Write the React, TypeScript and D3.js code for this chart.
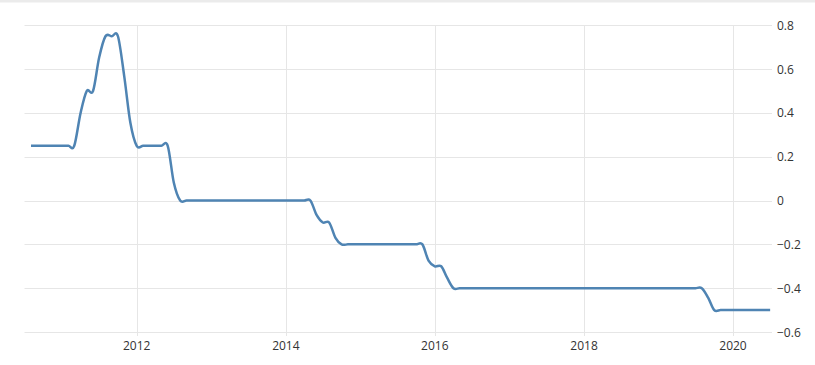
import React from "react";
import * as d3 from "d3";

// Monthly series (month start), Aug 2010 .. Jul 2020
const startMonth = "2010-08-01";
const values2010 = [0.25, 0.25, 0.25, 0.25, 0.25];
const values2011 = [0.25, 0.25, 0.25, 0.4, 0.5, 0.5, 0.653, 0.75, 0.75, 0.75, 0.567, 0.355];
const values2012 = [0.25, 0.25, 0.25, 0.25, 0.25, 0.25, 0.081, 0, 0, 0, 0, 0];
const values2013 = [0, 0, 0, 0, 0, 0, 0, 0, 0, 0, 0, 0];
const values2014 = [0, 0, 0, 0, 0, -0.067, -0.1, -0.1, -0.17, -0.2, -0.2, -0.2];
const values2015 = [-0.2, -0.2, -0.2, -0.2, -0.2, -0.2, -0.2, -0.2, -0.2, -0.2, -0.2, -0.274];
const values2016 = [-0.3, -0.3, -0.352, -0.4, -0.4, -0.4, -0.4, -0.4, -0.4, -0.4, -0.4, -0.4];
const values2017 = [-0.4, -0.4, -0.4, -0.4, -0.4, -0.4, -0.4, -0.4, -0.4, -0.4, -0.4, -0.4];
const values2018 = [-0.4, -0.4, -0.4, -0.4, -0.4, -0.4, -0.4, -0.4, -0.4, -0.4, -0.4, -0.4];
const values2019 = [-0.4, -0.4, -0.4, -0.4, -0.4, -0.4, -0.4, -0.4, -0.443, -0.5, -0.5, -0.5];
const values2020 = [-0.5, -0.5, -0.5, -0.5, -0.5, -0.5, -0.5];

const xTickYears = [2012, 2014, 2016, 2018, 2020];
const yTicks = [0.8, 0.6, 0.4, 0.2, 0, -0.2, -0.4, -0.6];

const W = 815;
const H = 365;

export default function App() {
  const values = [
    ...values2010, ...values2011, ...values2012, ...values2013, ...values2014,
    ...values2015, ...values2016, ...values2017, ...values2018, ...values2019, ...values2020,
  ];
  const start = new Date(startMonth + "T00:00:00");
  const data = values.map((v, i) => ({ date: d3.timeMonth.offset(start, i), value: v }));

  const x = d3
    .scaleTime()
    .domain([new Date(2012, 0, 1), new Date(2020, 0, 1)])
    .range([136.7, 733]);
  const y = d3.scaleLinear().domain([-0.6, 0.8]).range([332, 25.3]);

  const plotLeft = 24.5;
  const plotRight = 772;

  const line = d3
    .line<{ date: Date; value: number }>()
    .x((d) => x(d.date))
    .y((d) => y(d.value))
    .curve(d3.curveCatmullRom.alpha(0));

  const fmt = (v: number) => (v === 0 ? "0" : d3.format(".1f")(v));

  return (
    <svg
      width={W}
      height={H}
      style={{ position: "absolute", left: 0, top: 0, background: "#fff" }}
      fontFamily="'Open Sans', 'Noto Sans', sans-serif"
    >
      <rect x={0} y={0} width={W} height={2.5} fill="#ebebeb" />
      {yTicks.map((t) => (
        <line
          key={"h" + t}
          x1={plotLeft}
          x2={plotRight}
          y1={Math.round(y(t)) + 0.5}
          y2={Math.round(y(t)) + 0.5}
          stroke="#e6e6e6"
          strokeWidth={1}
        />
      ))}
      {xTickYears.map((yr) => {
        const xx = Math.round(x(new Date(yr, 0, 1))) + 0.5;
        return (
          <line key={"v" + yr} x1={xx} x2={xx} y1={25} y2={336} stroke="#e6e6e6" strokeWidth={1} />
        );
      })}
      <path d={line(data) || ""} fill="none" stroke="#4f84b3" strokeWidth={2.5} strokeLinejoin="round" />
      {xTickYears.map((yr) => (
        <text
          key={"xt" + yr}
          x={x(new Date(yr, 0, 1))}
          y={350}
          textAnchor="middle"
          fontSize={12}
          fill="#333"
        >
          {yr}
        </text>
      ))}
      {yTicks.map((t) => (
        <text key={"yt" + t} x={777} y={y(t) + 4.5} textAnchor="start" fontSize={12} fill="#333">
          {fmt(t)}
        </text>
      ))}
    </svg>
  );
}
